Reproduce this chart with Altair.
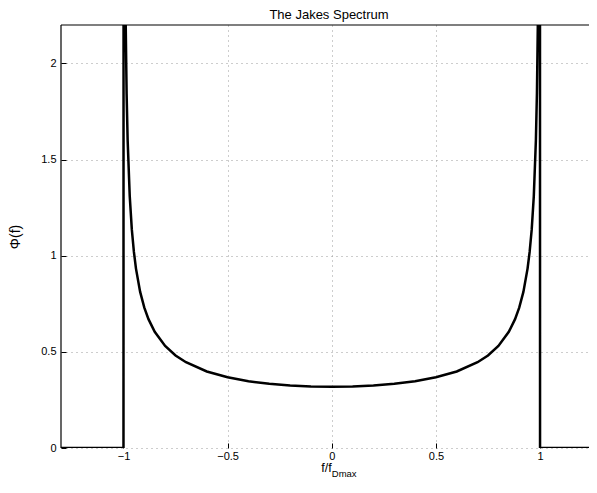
import altair as alt
import pandas as pd

# Normalised frequency f/f_Dmax and Jakes spectrum values
f_vals = [-1.3, -1.0, -0.999, -0.995, -0.99, -0.985, -0.98, -0.97, -0.96, -0.95, -0.94,
          -0.92, -0.9, -0.88, -0.85, -0.8, -0.75, -0.7, -0.6, -0.5, -0.4, -0.3, -0.2, -0.1,
          0.0,
          0.1, 0.2, 0.3, 0.4, 0.5, 0.6, 0.7, 0.75, 0.8, 0.85, 0.88, 0.9, 0.92, 0.94, 0.95,
          0.96, 0.97, 0.98, 0.985, 0.99, 0.995, 0.999, 1.0, 1.3]
phi_vals = [0.0, 0.0, 7.12, 3.19, 2.26, 1.845, 1.60, 1.31, 1.137, 1.02, 0.933,
            0.812, 0.730, 0.670, 0.604, 0.531, 0.481, 0.446, 0.398, 0.368, 0.347, 0.334, 0.325, 0.320,
            0.318,
            0.320, 0.325, 0.334, 0.347, 0.368, 0.398, 0.446, 0.481, 0.531, 0.604, 0.670, 0.730, 0.812, 0.933, 1.02,
            1.137, 1.31, 1.60, 1.845, 2.26, 3.19, 7.12, 0.0, 0.0]

x_ticks = [-1, -0.5, 0, 0.5, 1]
y_ticks = [0, 0.5, 1, 1.5, 2]
x_domain = [-1.3, 1.235]
y_domain = [0, 2.2]

df = pd.DataFrame({"f": f_vals, "phi": phi_vals, "order": list(range(len(f_vals)))})

FONT = "Liberation Sans"
W, H = 528, 423

xscale = alt.Scale(domain=x_domain, nice=False, zero=False)
yscale = alt.Scale(domain=y_domain, nice=False)

curve = alt.Chart(df).mark_line(color="black", strokeWidth=2.5, clip=True).encode(
    x=alt.X("f:Q", scale=xscale,
            axis=alt.Axis(values=x_ticks, format="~g", title=None, grid=True, domain=False,
                          tickSize=5, offset=-5, tickColor="black", labelPadding=2,
                          labelFontSize=11, labelColor="black", labelFont=FONT,
                          gridDash=[1, 4], gridColor="#9a9a9a", labelFlush=False)),
    y=alt.Y("phi:Q", scale=yscale,
            axis=alt.Axis(values=y_ticks, format="~g", title="Φ(f)", grid=True, domain=False,
                          tickSize=5, offset=-5, tickColor="black", labelPadding=5,
                          labelFontSize=11, labelColor="black", labelFont=FONT,
                          titleFont=FONT, titleFontSize=14, titleFontWeight="normal",
                          titleColor="black", titlePadding=18,
                          gridDash=[1, 4], gridColor="#9a9a9a", labelFlush=False)),
    order="order:Q",
)

top_border = alt.Chart(pd.DataFrame({"v": [y_domain[1]]})).mark_rule(
    color="black", strokeWidth=1.2).encode(y=alt.Y("v:Q", scale=yscale))
left_border = alt.Chart(pd.DataFrame({"v": [x_domain[0]]})).mark_rule(
    color="black", strokeWidth=1.2).encode(x=alt.X("v:Q", scale=xscale))

xlab_main = alt.Chart(pd.DataFrame({"t": ["f/f"]})).mark_text(
    font=FONT, fontSize=12.5, color="black", align="right", baseline="alphabetic"
).encode(x=alt.datum(0), y=alt.value(H + 24), text="t:N")

xlab_sub = alt.Chart(pd.DataFrame({"t": ["Dmax"]})).mark_text(
    font=FONT, fontSize=9.5, color="black", align="left", baseline="alphabetic"
).encode(x=alt.datum(0), y=alt.value(H + 29), text="t:N")

chart = alt.layer(curve, top_border, left_border, xlab_main, xlab_sub).properties(
    width=W,
    height=H,
    title=alt.TitleParams("The Jakes Spectrum", font=FONT, fontSize=13,
                          fontWeight="normal", color="black", offset=2, dx=4),
    padding={"left": 53, "top": 17, "right": 0, "bottom": 32},
    autosize=alt.AutoSizeParams(type="none"),
).configure_view(stroke=None)

chart.save("out.html", embed_options={"renderer": "svg", "actions": False})
